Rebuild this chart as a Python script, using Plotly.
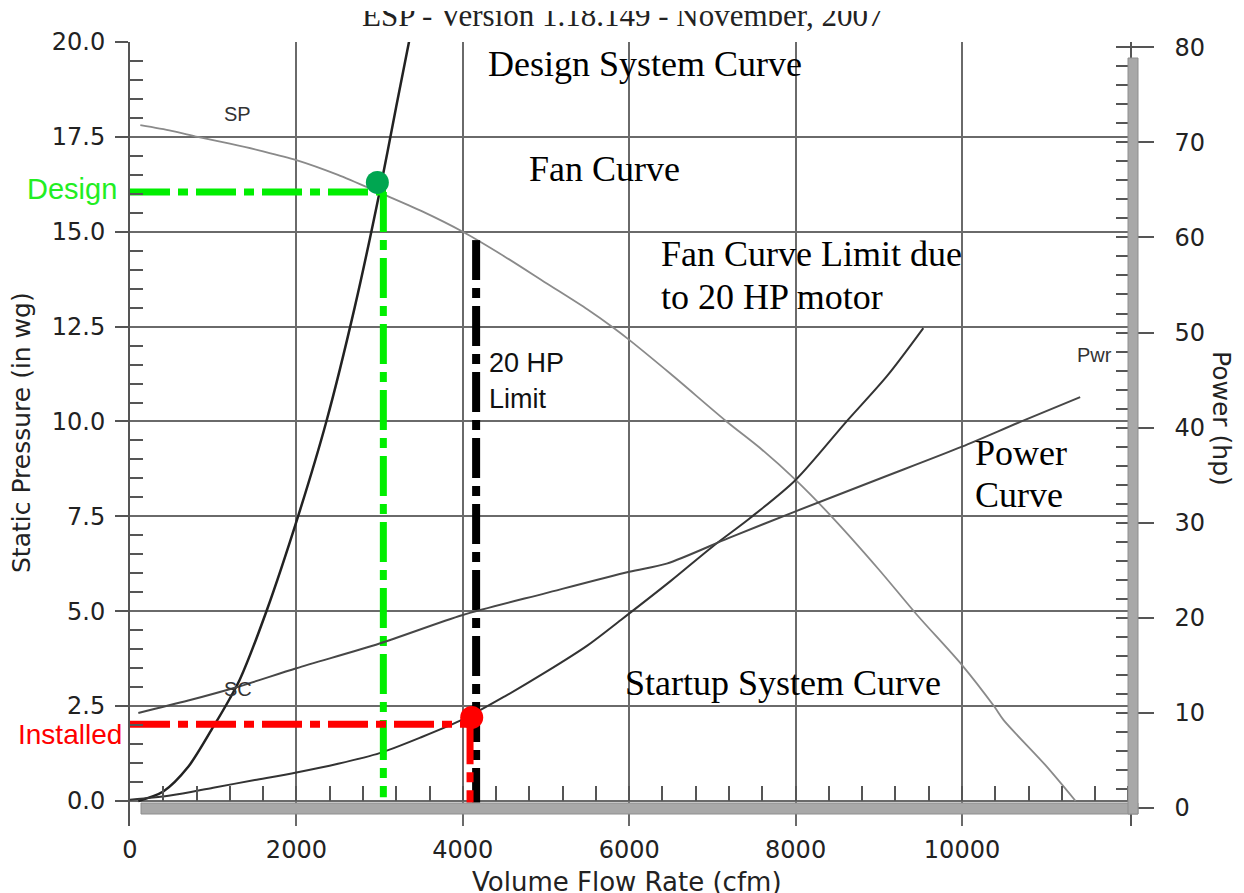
import plotly.graph_objects as go

# ---------------- data ----------------
# Fan curve (static pressure, in wg)
fan_x = [124, 500, 813, 1200, 1600, 2000, 2500, 3000, 3500, 4000, 4500, 5000, 5500, 5810,
         6000, 6500, 7170, 7600, 8000, 8430, 9000, 9460, 10000, 10390, 10500, 11000, 11365]
fan_y = [17.81, 17.66, 17.5, 17.32, 17.12, 16.89, 16.5, 16.03, 15.55, 15.0, 14.35, 13.65, 12.95, 12.47,
         12.15, 11.25, 10.0, 9.25, 8.46, 7.5, 6.1, 4.9, 3.58, 2.48, 2.13, 0.95, 0.0]

# Power curve (hp, right axis)
pwr_x = [100, 700, 1300, 2000, 3000, 4000, 5000, 6000, 6450, 7200, 8000, 9000, 10000, 10700, 11420]
pwr_y = [10.0, 11.3, 12.75, 14.7, 17.3, 20.3, 22.6, 24.85, 25.7, 28.4, 31.2, 34.6, 38.0, 40.6, 43.2]

# Design system curve
des_x = [100, 400, 700, 1000, 1200, 1320, 1640, 2020, 2360, 2700, 3000, 3200, 3380]
des_y = [0.0, 0.25, 0.9, 1.95, 2.7, 3.2, 5.0, 7.5, 10.0, 13.0, 16.05, 18.3, 20.3]

# Startup system curve
sup_x = [0, 500, 1000, 1500, 2000, 2500, 3000, 3500, 4000, 4500, 5000, 5500, 5900,
         6500, 7000, 7450, 8000, 8600, 9100, 9535]
sup_y = [0.03, 0.15, 0.35, 0.55, 0.75, 0.98, 1.26, 1.68, 2.15, 2.75, 3.4, 4.1, 4.77,
         5.8, 6.7, 7.45, 8.46, 9.97, 11.2, 12.46]

# Operating points and reference lines
design_pt = (2973, 16.3)
design_line_y = 16.05
design_line_x = 3045
design_h_end = 3083
installed_pt = (4107, 2.2)
installed_line_y = 2.02
installed_line_x = 4087
hp_limit_x = 4160
hp_limit_top = 14.78
line_bottom = -0.05
green_bottom = 0.1

x_ticks = [0, 2000, 4000, 6000, 8000, 10000]
x_ticklabels = ["0", "2000", "4000", "6000", "8000", "10000"]
y_ticks = [0, 2.5, 5, 7.5, 10, 12.5, 15, 17.5, 20]
y_ticklabels = ["0.0", "2.5", "5.0", "7.5", "10.0", "12.5", "15.0", "17.5", "20.0"]
p_ticks = [0, 10, 20, 30, 40, 50, 60, 70, 80]

header = "ESP - Version 1.18.149 - November, 2007"

# ---------------- layout geometry ----------------
W, H = 1244, 893
L, R, T, B = 130, 1130, 42, 826

X_RANGE = [0, 12019]
Y_RANGE = [-0.66, 20]
P_RANGE = [-1.89, 80.55]


def px_x(p):
    return (p - L) / (R - L)


def px_y(p):
    return (B - p) / (B - T)


TICK_FONT = dict(family="DejaVu Sans", size=24, color="#222")
SERIF = "Liberation Serif"
DASH = "40px,8px,10px,8px"

fig = go.Figure()

# curves
fig.add_trace(go.Scatter(x=fan_x, y=fan_y, mode="lines",
                         line=dict(color="#8a8a8a", width=1.8, shape="spline", smoothing=0.8),
                         hoverinfo="skip"))
fig.add_trace(go.Scatter(x=pwr_x, y=pwr_y, mode="lines", yaxis="y2",
                         line=dict(color="#474747", width=2, shape="spline", smoothing=0.8),
                         hoverinfo="skip"))
fig.add_trace(go.Scatter(x=des_x, y=des_y, mode="lines",
                         line=dict(color="#222", width=2.5, shape="spline", smoothing=0.8),
                         hoverinfo="skip"))
fig.add_trace(go.Scatter(x=sup_x, y=sup_y, mode="lines",
                         line=dict(color="#333", width=2, shape="spline", smoothing=0.8),
                         hoverinfo="skip"))

# design (green) dash-dot lines
fig.add_trace(go.Scatter(x=[0, design_h_end], y=[design_line_y, design_line_y], mode="lines",
                         line=dict(color="#00ee00", width=7, dash=DASH), hoverinfo="skip"))
fig.add_trace(go.Scatter(x=[design_line_x, design_line_x], y=[design_line_y, green_bottom], mode="lines",
                         line=dict(color="#00ee00", width=7, dash=DASH), hoverinfo="skip"))
# 20 HP limit (black)
fig.add_trace(go.Scatter(x=[hp_limit_x, hp_limit_x], y=[hp_limit_top, line_bottom], mode="lines",
                         line=dict(color="#000", width=8, dash=DASH), hoverinfo="skip"))
# installed (red)
fig.add_trace(go.Scatter(x=[0, installed_line_x], y=[installed_line_y, installed_line_y], mode="lines",
                         line=dict(color="#ff0000", width=7, dash=DASH), hoverinfo="skip"))
fig.add_trace(go.Scatter(x=[installed_line_x, installed_line_x], y=[installed_line_y, line_bottom], mode="lines",
                         line=dict(color="#ff0000", width=7, dash=DASH), hoverinfo="skip"))

# points
fig.add_trace(go.Scatter(x=[design_pt[0]], y=[design_pt[1]], mode="markers",
                         marker=dict(color="#00a651", size=23, line=dict(width=0)), hoverinfo="skip"))
fig.add_trace(go.Scatter(x=[installed_pt[0]], y=[installed_pt[1]], mode="markers",
                         marker=dict(color="#ff0000", size=23, line=dict(width=0)), hoverinfo="skip"))

# helper trace for minor x ticks drawn on the y=0 line
fig.add_trace(go.Scatter(x=[0], y=[0], xaxis="x2", mode="markers",
                         marker=dict(opacity=0), hoverinfo="skip"))

minor_y = [v / 2 for v in range(0, 41) if v % 5 != 0]

fig.update_layout(
    width=W, height=H,
    margin=dict(l=L, r=W - R, t=T, b=H - B, autoexpand=False),
    paper_bgcolor="white", plot_bgcolor="white",
    showlegend=False,
    xaxis=dict(range=X_RANGE, tickvals=x_ticks, ticktext=x_ticklabels, ticks="", showgrid=True,
               gridcolor="#6a6a6a", gridwidth=1.5, zeroline=False, showline=False,
               tickfont=TICK_FONT, ticklabelstandoff=7, fixedrange=True),
    xaxis2=dict(range=X_RANGE, overlaying="x", anchor="free", position=px_y(801),
                showticklabels=False, showgrid=False, zeroline=False, showline=False,
                ticks="inside", tickmode="linear", tick0=0, dtick=400, ticklen=15,
                tickwidth=1.5, tickcolor="#555"),
    yaxis=dict(range=Y_RANGE, tickvals=y_ticks, ticktext=y_ticklabels, ticks="outside",
               ticklen=13, tickwidth=1.5, tickcolor="#555",
               showgrid=True, gridcolor="#6a6a6a", gridwidth=1.5, zeroline=False,
               showline=True, linecolor="#555", linewidth=2,
               tickfont=TICK_FONT, ticklabelstandoff=5,
               minor=dict(ticks="inside", ticklen=13, tickwidth=1.5, tickcolor="#555",
                          tickmode="array", tickvals=minor_y, showgrid=False)),
    yaxis2=dict(range=P_RANGE, overlaying="y", side="right", tickvals=p_ticks,
                ticks="outside", ticklen=22, tickwidth=1.5, tickcolor="#555",
                showgrid=False, zeroline=False, showline=True, linecolor="#555", linewidth=1.5,
                tickfont=TICK_FONT, ticklabelstandoff=16,
                minor=dict(ticks="inside", ticklen=14, tickwidth=1.5, tickcolor="#555",
                           tickmode="linear", tick0=0, dtick=2, showgrid=False)),
)

# hatched frame bars (bottom and right)
fig.add_shape(type="rect", xref="paper", yref="paper",
              x0=px_x(141), x1=px_x(1138), y0=px_y(814), y1=px_y(803),
              fillcolor="#a8a8a8", line=dict(color="#8e8e8e", width=1), layer="above")
fig.add_shape(type="rect", xref="paper", yref="paper",
              x0=px_x(1128), x1=px_x(1138), y0=px_y(814), y1=px_y(58),
              fillcolor="#a8a8a8", line=dict(color="#8e8e8e", width=1), layer="above")

ann = []


def add_text(text, x, y, size, family, color, xanchor="left", textangle=0):
    ann.append(dict(text=text, x=x, y=y, xref="paper", yref="paper", showarrow=False,
                    xanchor=xanchor, yanchor="middle", textangle=textangle,
                    font=dict(family=family, size=size, color=color)))


# scanned header, its top cropped by a white box drawn over it
add_text(header, px_x(622), px_y(15), 31, SERIF, "#222", xanchor="center")
ann.append(dict(text=".", x=0.5, y=px_y(11), xref="paper", yref="paper", showarrow=False,
                xanchor="center", yanchor="bottom", width=1200, height=18,
                bgcolor="white", borderpad=0, borderwidth=0,
                font=dict(color="white", size=8)))

# axis titles
add_text("Static Pressure (in wg)", px_x(22), px_y(433), 25, "DejaVu Sans", "#222",
         xanchor="center", textangle=-90)
add_text("Power (hp)", px_x(1222), px_y(418), 25, "DejaVu Sans", "#222",
         xanchor="center", textangle=90)
add_text("Volume Flow Rate (cfm)", px_x(627), px_y(882), 26, "DejaVu Sans", "#222",
         xanchor="center")

# serif callouts
add_text("Design System Curve", px_x(486), px_y(64), 36, SERIF, "#000")
add_text("Fan Curve", px_x(527), px_y(169), 36, SERIF, "#000")
add_text("Fan Curve Limit due", px_x(659), px_y(254), 36, SERIF, "#000")
add_text("to 20 HP motor", px_x(659), px_y(297), 36, SERIF, "#000")
add_text("Power", px_x(973), px_y(453), 36, SERIF, "#000")
add_text("Curve", px_x(973), px_y(495), 36, SERIF, "#000")
add_text("Startup System Curve", px_x(623), px_y(683), 36, SERIF, "#000")

# sans labels
add_text("20 HP", px_x(487), px_y(363), 27, "Liberation Sans", "#111")
add_text("Limit", px_x(487), px_y(399), 27, "Liberation Sans", "#111")
add_text("Design", px_x(119), px_y(189), 29, "Liberation Sans", "#22ee22", xanchor="right")
add_text("Installed", px_x(124), px_y(734), 28, "Liberation Sans", "#ff0000", xanchor="right")

# small curve tags
add_text("SP", px_x(222), px_y(114), 20, "Liberation Sans", "#333")
add_text("SC", px_x(222), px_y(689), 20, "Liberation Sans", "#333")
add_text("Pwr", px_x(1075), px_y(355), 20, "Liberation Sans", "#333")

fig.update_layout(annotations=ann)

fig.write_html("out.html", config={"displayModeBar": False},
               post_script="document.body.style.margin='0';document.body.style.overflow='hidden';")
